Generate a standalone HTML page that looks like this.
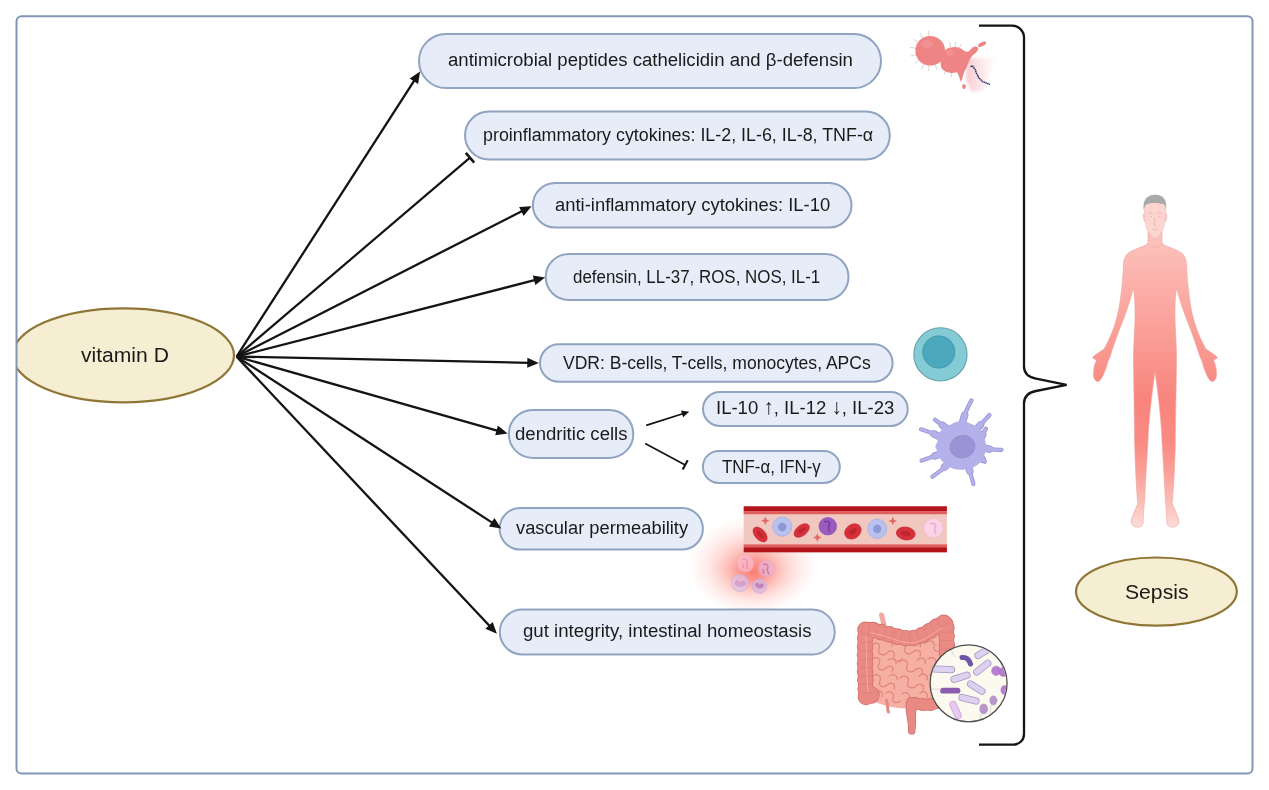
<!DOCTYPE html>
<html><head><meta charset="utf-8">
<style>
*{margin:0;padding:0;box-sizing:border-box}
html,body{width:1269px;height:790px;background:#fff;overflow:hidden}
body{position:relative;font-family:"Liberation Sans",sans-serif;color:#1a1a1a}
svg.m{position:absolute;left:0;top:0}
.t{position:absolute;white-space:nowrap;z-index:4;transform-origin:0 0}
.ar{font-size:1.12em;line-height:0}
</style></head>
<body>
<svg class="m" width="1269" height="790" viewBox="0 0 1269 790" style="z-index:1">
<defs><clipPath id="fc"><rect x="17" y="17" width="1234" height="755" rx="4"/></clipPath></defs>
<g clip-path="url(#fc)"><ellipse cx="123.3" cy="355.3" rx="110.7" ry="47" fill="#f6eed3" stroke="#8f7636" stroke-width="2.2"/></g>
<ellipse cx="1156.4" cy="591.6" rx="80.4" ry="34.1" fill="#f6eed3" stroke="#8f7636" stroke-width="2.2"/>
<!-- bracket -->
<path d="M979,25.6 H1012 A12,12 0 0 1 1024,37.6 V366.5 C1024,373.5 1028,377 1036,378.6 L1066.6,384.8 L1036,391 C1028,392.6 1024,396 1024,403.4 V734 A10.5,10.5 0 0 1 1013.5,744.6 H979" fill="none" stroke="#151515" stroke-width="2.3"/>
<!-- bacterium -->
<defs>
<linearGradient id="pg" x1="968" y1="0" x2="1002" y2="0" gradientUnits="userSpaceOnUse"><stop offset="0" stop-color="#f9c9cf" stop-opacity="0.9"/><stop offset="1" stop-color="#fde6ea" stop-opacity="0"/></linearGradient>
<filter id="bl1" x="-50%" y="-50%" width="200%" height="200%"><feGaussianBlur stdDeviation="1.5"/></filter>
</defs>
<path d="M967,58 L1000,58 L992,66 L984,90 L972,92 L966,80 Z" fill="url(#pg)" filter="url(#bl1)"/>
<g stroke="#cbbcc0" stroke-width="0.9" opacity="0.75"><line x1="929.0" y1="36.6" x2="928.4" y2="30.6"/><line x1="923.1" y1="38.4" x2="920.1" y2="33.2"/><line x1="918.5" y1="42.6" x2="913.6" y2="39.2"/><line x1="916.1" y1="48.3" x2="910.2" y2="47.3"/><line x1="916.4" y1="54.5" x2="910.6" y2="56.1"/><line x1="919.2" y1="60.0" x2="914.6" y2="63.8"/><line x1="924.2" y1="63.8" x2="921.6" y2="69.2"/><line x1="929.0" y1="65.0" x2="928.4" y2="71.0"/><line x1="935.1" y1="64.2" x2="937.1" y2="69.9"/><line x1="940.3" y1="60.9" x2="944.6" y2="65.2"/><line x1="943.6" y1="55.7" x2="949.3" y2="57.7"/><line x1="959.0" y1="48.7" x2="961.7" y2="43.9"/><line x1="954.9" y1="47.2" x2="955.8" y2="41.8"/><line x1="950.5" y1="47.2" x2="949.6" y2="41.8"/><line x1="946.5" y1="70.3" x2="943.7" y2="75.1"/><line x1="951.6" y1="72.0" x2="951.1" y2="77.4"/><line x1="957.0" y1="71.2" x2="958.9" y2="76.4"/><line x1="960.7" y1="69.1" x2="964.3" y2="73.3"/></g>
<circle cx="930.2" cy="50.8" r="14.8" fill="#ef8484"/>
<path d="M940,56 C944,47 957,44 963,50 C967,53 969,52 972,48 C974,46 977,46 978,48 C979,50 976,53 973,55 C970,58 969,61 968,64 C967,67 966,69 964,72 C963,76 962,80 961,82 C959,78 959,74 957,72 C952,74 944,73 941,67 Z" fill="#ef8484"/>
<ellipse cx="982" cy="44.2" rx="4.5" ry="2" transform="rotate(-25 982 44.2)" fill="#ef8484"/>
<ellipse cx="964" cy="86.5" rx="1.8" ry="2.6" fill="#ef8484"/>
<ellipse cx="927" cy="44" rx="6" ry="4" fill="#f49a9a" opacity="0.6"/>
<ellipse cx="950" cy="53" rx="4" ry="3" fill="#f49a9a" opacity="0.6"/>
<path d="M970.5,66.5 L972.5,66 L974,68 L975.5,70 L976,72.5 L977.5,75 L978.5,77.5 L980.5,79.5 L982.5,81.5 L985,82.5 L987.5,83.5 L990,84.5" fill="none" stroke="#2e3566" stroke-width="1.5" stroke-dasharray="1.5 0.5" stroke-linejoin="round"/>
<!-- lymphocyte -->
<circle cx="940.45" cy="354.4" r="26.6" fill="#84cbd6" stroke="#67a0aa" stroke-width="1.1"/>
<circle cx="938.8" cy="352" r="16.2" fill="#4ba8bd" stroke="#3f98ab" stroke-width="0.8"/>
<!-- dendritic cell -->
<g fill="none" stroke-linecap="round">
<g stroke="#9b97d6" stroke-width="4.2"><path d="M962,424 C965,413 968,406 971.5,400.5"/><path d="M976,430 C981,424 986,419 989.5,415"/><path d="M981,438 C983,434 984.5,431 986,428.8"/><path d="M984,448 C990,449.5 996,450 1001.5,449.8"/><path d="M981,458 C982.5,459.5 983.5,460.5 984.8,461.8"/><path d="M968,465 C970,472 972,478 973.4,484"/><path d="M950,462 C944,468 938,473 932.4,476.8"/><path d="M941,454 C934,456 928,458.5 921.6,460.6"/><path d="M940,437 C933,433 927,431 921,429.3"/><path d="M946,428 C942,425 938,422 934.9,419.7"/></g>
<g stroke="#9b97d6" stroke-width="7.5"><line x1="962" y1="424" x2="964.7" y2="415.1"/><line x1="976" y1="430" x2="980.5" y2="424.9"/><line x1="981" y1="438" x2="982.7" y2="434.7"/><line x1="984" y1="448" x2="989.4" y2="449.1"/><line x1="981" y1="458" x2="982.2" y2="459.2"/><line x1="968" y1="465" x2="969.8" y2="471.1"/><line x1="950" y1="462" x2="944.6" y2="467.1"/><line x1="941" y1="454" x2="934.9" y2="455.9"/><line x1="940" y1="437" x2="933.9" y2="433.9"/><line x1="946" y1="428" x2="942.4" y2="425.3"/></g>
<g stroke="#b4b1ea" stroke-width="2.6"><path d="M962,424 C965,413 968,406 971.5,400.5"/><path d="M976,430 C981,424 986,419 989.5,415"/><path d="M981,438 C983,434 984.5,431 986,428.8"/><path d="M984,448 C990,449.5 996,450 1001.5,449.8"/><path d="M981,458 C982.5,459.5 983.5,460.5 984.8,461.8"/><path d="M968,465 C970,472 972,478 973.4,484"/><path d="M950,462 C944,468 938,473 932.4,476.8"/><path d="M941,454 C934,456 928,458.5 921.6,460.6"/><path d="M940,437 C933,433 927,431 921,429.3"/><path d="M946,428 C942,425 938,422 934.9,419.7"/></g>
<g stroke="#b4b1ea" stroke-width="5.8"><line x1="962" y1="424" x2="964.7" y2="415.1"/><line x1="976" y1="430" x2="980.5" y2="424.9"/><line x1="981" y1="438" x2="982.7" y2="434.7"/><line x1="984" y1="448" x2="989.4" y2="449.1"/><line x1="981" y1="458" x2="982.2" y2="459.2"/><line x1="968" y1="465" x2="969.8" y2="471.1"/><line x1="950" y1="462" x2="944.6" y2="467.1"/><line x1="941" y1="454" x2="934.9" y2="455.9"/><line x1="940" y1="437" x2="933.9" y2="433.9"/><line x1="946" y1="428" x2="942.4" y2="425.3"/></g>
</g>
<path d="M937.5,442 C937,432 944,426 951,424.5 C956,421 963,419.5 969,423 C976,425 982,430 984,438 C987,444 987,451 983.5,457 C981,463 975,468.5 967,469 C960,471 951,469.5 946,464.5 C941,461 937,455 936.5,449 C934.5,447 935.5,444.5 937.5,442 Z" fill="#b4b1ea"/>
<ellipse cx="962.5" cy="446.7" rx="12.6" ry="11.3" transform="rotate(-15 962.5 446.7)" fill="#9b93d6" stroke="#8e86cb" stroke-width="0.6"/>
<!-- inflammation glow -->
<defs><radialGradient id="gl" cx="753" cy="565" r="66" fx="753" fy="574" gradientUnits="userSpaceOnUse" gradientTransform="translate(753 565) scale(1 0.76) translate(-753 -565)">
<stop offset="0" stop-color="#fb6e62" stop-opacity="0.9"/><stop offset="0.22" stop-color="#fc8278" stop-opacity="0.8"/><stop offset="0.45" stop-color="#fdaaa2" stop-opacity="0.62"/><stop offset="0.7" stop-color="#fed3ce" stop-opacity="0.45"/><stop offset="0.9" stop-color="#ffeceb" stop-opacity="0.3"/><stop offset="1" stop-color="#ffffff" stop-opacity="0"/></radialGradient></defs>
<rect x="684" y="510" width="140" height="104" fill="url(#gl)"/>
<g opacity="0.7">
<circle cx="745.5" cy="563.5" r="8.4" fill="#f8bfd3" stroke="#f3a9c4" stroke-width="0.8"/><path d="M742.5,559.5 C745.5,558 748.5,560 747,563 C745.5,566 749,567.5 747,569 M742.5,564 C744,565 744,567 742.5,568" fill="none" stroke="#ee90b3" stroke-width="1.3"/>
<circle cx="766.5" cy="568.5" r="8" fill="#e9b7d9" stroke="#dea4cd" stroke-width="0.8"/><path d="M763,565 C766,563 769,565.5 767.5,568.5 C766,571.5 769.5,572.5 768.5,574.5 M762.5,569.5 C764,570.5 764,572.5 762.5,573.5" fill="none" stroke="#c66fae" stroke-width="1.7"/>
<circle cx="740" cy="583" r="8.7" fill="#dcc0e8" stroke="#ceaadf" stroke-width="0.8"/><path d="M734.5,582.5 C736.5,578.5 740,580.5 740,583 C741,580 745,579.5 746,583.5 C746,588 734.5,588 734.5,582.5 Z" fill="#c39bd8"/>
<circle cx="759.5" cy="586" r="7.3" fill="#d7b6e4" stroke="#c79fda" stroke-width="0.8"/><path d="M755.2,584.5 C757,581.5 759.5,583 759.5,585.5 C760.5,582.5 763.8,582.5 763.8,585.5 C763.8,589.5 755.2,589.5 755.2,584.5 Z" fill="#a86ec6"/>
</g>
<!-- blood vessel -->
<rect x="743.7" y="506.3" width="203.2" height="46" fill="#f1c8bf"/>
<rect x="743.7" y="506.3" width="203.2" height="5" fill="#b3141c"/>
<rect x="743.7" y="511.2" width="203.2" height="3" fill="#de5e5c"/>
<rect x="743.7" y="544.4" width="203.2" height="3" fill="#de5e5c"/>
<rect x="743.7" y="547.3" width="203.2" height="5" fill="#b3141c"/>
<g>
<ellipse cx="760.1" cy="534.5" rx="8.8" ry="5.2" transform="rotate(48 760.1 534.5)" fill="#d8303a" stroke="#c02630" stroke-width="0.6"/><ellipse cx="760.1" cy="534.5" rx="4.5" ry="2" transform="rotate(48 760.1 534.5)" fill="#bf2630"/>
<ellipse cx="801.7" cy="530.5" rx="8.8" ry="5.2" transform="rotate(-38 801.7 530.5)" fill="#d8303a" stroke="#c02630" stroke-width="0.6"/><ellipse cx="801.7" cy="530.5" rx="4.5" ry="2" transform="rotate(-38 801.7 530.5)" fill="#bf2630"/>
<ellipse cx="852.9" cy="531.4" rx="8.8" ry="7" transform="rotate(-35 852.9 531.4)" fill="#d8303a" stroke="#c02630" stroke-width="0.6"/><ellipse cx="852.9" cy="531.4" rx="4.5" ry="2.5" transform="rotate(-35 852.9 531.4)" fill="#bf2630"/>
<ellipse cx="905.8" cy="533.5" rx="9.5" ry="6.5" transform="rotate(8 905.8 533.5)" fill="#d8303a" stroke="#c02630" stroke-width="0.6"/><ellipse cx="905.8" cy="533.5" rx="5" ry="2.5" transform="rotate(8 905.8 533.5)" fill="#bf2630"/>
<circle cx="782.2" cy="526.6" r="9.6" fill="#b9c1ee" stroke="#a6aee2" stroke-width="0.8"/><circle cx="782.2" cy="527" r="4.2" fill="#8f98d6"/>
<circle cx="877.2" cy="528.8" r="9.6" fill="#b9c1ee" stroke="#a6aee2" stroke-width="0.8"/><circle cx="877.2" cy="529" r="4.2" fill="#8f98d6"/>
<circle cx="827.8" cy="526.2" r="8.8" fill="#9a5cc0" stroke="#8a4cb0" stroke-width="0.6"/><path d="M824,522 C828,520 831,523 829,526 C827,529 831,531 829,532" fill="none" stroke="#7a3aa0" stroke-width="1.6"/>
<circle cx="933.5" cy="528" r="9.6" fill="#fad3e4" stroke="#f3bfd6" stroke-width="0.8"/><path d="M930,524 C934,522 937,525 935,528 C933,531 937,533 935,534" fill="none" stroke="#eeadc9" stroke-width="1.6"/>
<path d="M765.3,516.5 L766.5,519.5 L769.5,520.7 L766.5,521.9 L765.3,525 L764.1,521.9 L761,520.7 L764.1,519.5 Z" fill="#e26662"/>
<path d="M817.3,533.3 L818.5,536.3 L821.5,537.5 L818.5,538.7 L817.3,541.8 L816.1,538.7 L813,537.5 L816.1,536.3 Z" fill="#e26662"/>
<path d="M892.8,516.8 L894,519.8 L897,521 L894,522.2 L892.8,525.3 L891.6,522.2 L888.5,521 L891.6,519.8 Z" fill="#e26662"/>
</g>
<!-- intestine -->
<path d="M868,628 C885,634 925,640 946,622 L948,692 C940,702 925,708 915,708 C900,710 880,706 871,699 Z" fill="#f6b0a3"/>
<g fill="none" stroke="#e2867b" stroke-width="1.2" stroke-linecap="round" stroke-linejoin="round">
<path d="M872,645 C876,641 881,644 879,649 C877,654 883,657 887,653 C890,649 895,651 894,656 C893,661 898,663 902,659"/>
<path d="M884,641 C889,638 894,641 892,646 M897,644 C901,640 907,643 905,648 C903,653 909,656 913,652 C917,648 922,651 920,656"/>
<path d="M912,642 C917,639 922,642 920,647 M925,643 C929,639 935,641 934,646 C933,651 938,653 941,650"/>
<path d="M872,659 C877,656 882,659 879,664 C876,669 882,672 886,668 C890,664 895,667 892,672"/>
<path d="M888,660 C892,657 897,659 896,664 M899,662 C903,658 909,661 907,666 C905,671 911,674 915,670 C919,666 924,669 922,674"/>
<path d="M917,660 C921,656 927,659 925,664 M928,659 C932,656 938,659 936,664 C934,669 939,671 942,668"/>
<path d="M873,676 C877,673 882,676 880,681 C878,686 883,689 887,685 C891,681 896,684 894,689"/>
<path d="M889,676 C893,673 898,675 897,680 M900,678 C904,674 910,677 908,682 C906,687 912,690 916,686 C920,682 925,685 923,690"/>
<path d="M919,676 C923,672 929,675 927,680 M930,675 C934,672 940,675 938,680 C936,685 940,688 943,685"/>
<path d="M875,692 C879,689 884,692 882,697 M886,693 C890,690 895,693 893,698 C891,702 897,704 900,701"/>
<path d="M902,694 C906,691 911,694 909,699 C907,703 913,705 917,702 M920,693 C924,690 929,693 927,698 C925,702 931,704 934,701"/>
</g>
<path d="M881.5,615 L883.8,624" stroke="#f2a89e" stroke-width="5" stroke-linecap="round"/>
<path d="M886.5,700 C888,705 887,709 888.5,712" stroke="#e48a84" stroke-width="3" fill="none" stroke-linecap="round"/>
<g fill="#d6736d"><circle cx="871" cy="695" r="8.7"/></g>
<g fill="#d6736d"><circle cx="866.0" cy="697.0" r="8.3"/><circle cx="865.8" cy="692.8" r="7.5"/><circle cx="865.7" cy="688.6" r="8.3"/><circle cx="865.5" cy="684.4" r="7.5"/><circle cx="865.4" cy="680.2" r="8.3"/><circle cx="865.2" cy="676.0" r="7.5"/><circle cx="865.1" cy="671.8" r="8.3"/><circle cx="865.1" cy="667.6" r="7.5"/><circle cx="865.0" cy="663.4" r="8.3"/><circle cx="865.0" cy="659.2" r="7.5"/><circle cx="865.0" cy="655.0" r="8.3"/><circle cx="865.0" cy="650.8" r="7.5"/><circle cx="865.0" cy="646.6" r="8.3"/><circle cx="865.1" cy="642.4" r="7.5"/><circle cx="865.2" cy="638.2" r="8.3"/><circle cx="865.3" cy="634.0" r="7.5"/><circle cx="865.5" cy="629.8" r="8.3"/><circle cx="868.9" cy="629.4" r="7.5"/><circle cx="873.0" cy="630.1" r="8.3"/><circle cx="877.1" cy="631.0" r="7.5"/><circle cx="881.1" cy="632.1" r="8.3"/><circle cx="885.2" cy="633.3" r="7.5"/><circle cx="889.2" cy="634.4" r="8.3"/><circle cx="893.3" cy="635.6" r="7.5"/><circle cx="897.3" cy="636.6" r="8.3"/><circle cx="901.4" cy="637.6" r="7.5"/><circle cx="905.6" cy="638.2" r="8.3"/><circle cx="909.7" cy="638.5" r="7.5"/><circle cx="913.9" cy="638.0" r="8.3"/><circle cx="918.0" cy="636.9" r="7.5"/><circle cx="921.8" cy="635.3" r="8.3"/><circle cx="925.6" cy="633.4" r="7.5"/><circle cx="929.2" cy="631.3" r="8.3"/><circle cx="932.8" cy="629.1" r="7.5"/><circle cx="936.3" cy="626.8" r="8.3"/><circle cx="939.9" cy="624.7" r="7.5"/><circle cx="943.7" cy="622.8" r="8.3"/><circle cx="946.0" cy="623.8" r="7.5"/><circle cx="946.3" cy="627.9" r="8.3"/><circle cx="946.5" cy="632.1" r="7.5"/><circle cx="946.6" cy="636.3" r="8.3"/><circle cx="946.7" cy="640.5" r="7.5"/><circle cx="946.8" cy="644.7" r="8.3"/><circle cx="946.8" cy="648.9" r="7.5"/><circle cx="946.8" cy="653.1" r="8.3"/><circle cx="946.8" cy="657.3" r="7.5"/><circle cx="946.7" cy="661.5" r="8.3"/><circle cx="946.6" cy="665.7" r="7.5"/><circle cx="946.5" cy="669.9" r="8.3"/><circle cx="946.3" cy="674.1" r="7.5"/><circle cx="946.1" cy="678.3" r="8.3"/><circle cx="945.8" cy="682.5" r="7.5"/><circle cx="945.5" cy="686.7" r="8.3"/><circle cx="945.1" cy="690.9" r="7.5"/><circle cx="944.7" cy="695.1" r="8.3"/></g>
<g fill="#d6736d"><circle cx="944.5" cy="697.0" r="6.5"/><circle cx="941.8" cy="699.9" r="5.9"/><circle cx="938.5" cy="702.2" r="6.5"/><circle cx="934.8" cy="703.7" r="5.9"/><circle cx="930.9" cy="704.5" r="6.5"/><circle cx="926.9" cy="704.8" r="5.9"/><circle cx="922.9" cy="704.6" r="6.5"/><circle cx="918.9" cy="704.1" r="5.9"/><circle cx="915.0" cy="703.3" r="6.5"/></g>
<g fill="#d6736d"><circle cx="911.5" cy="703.0" r="5.9"/><circle cx="911.1" cy="706.5" r="5.6"/><circle cx="911.1" cy="710.0" r="5.4"/><circle cx="911.2" cy="713.5" r="5.1"/><circle cx="911.4" cy="717.0" r="4.8"/><circle cx="911.7" cy="720.5" r="4.5"/><circle cx="911.9" cy="724.0" r="4.3"/><circle cx="911.9" cy="727.5" r="4.0"/><circle cx="911.7" cy="730.9" r="3.7"/></g>
<g fill="#e98982"><circle cx="871" cy="695" r="7.8"/></g>
<g fill="#e98a84"><circle cx="866.0" cy="697.0" r="7.4"/><circle cx="865.8" cy="692.8" r="6.6"/><circle cx="865.7" cy="688.6" r="7.4"/><circle cx="865.5" cy="684.4" r="6.6"/><circle cx="865.4" cy="680.2" r="7.4"/><circle cx="865.2" cy="676.0" r="6.6"/><circle cx="865.1" cy="671.8" r="7.4"/><circle cx="865.1" cy="667.6" r="6.6"/><circle cx="865.0" cy="663.4" r="7.4"/><circle cx="865.0" cy="659.2" r="6.6"/><circle cx="865.0" cy="655.0" r="7.4"/><circle cx="865.0" cy="650.8" r="6.6"/><circle cx="865.0" cy="646.6" r="7.4"/><circle cx="865.1" cy="642.4" r="6.6"/><circle cx="865.2" cy="638.2" r="7.4"/><circle cx="865.3" cy="634.0" r="6.6"/><circle cx="865.5" cy="629.8" r="7.4"/><circle cx="868.9" cy="629.4" r="6.6"/><circle cx="873.0" cy="630.1" r="7.4"/><circle cx="877.1" cy="631.0" r="6.6"/><circle cx="881.1" cy="632.1" r="7.4"/><circle cx="885.2" cy="633.3" r="6.6"/><circle cx="889.2" cy="634.4" r="7.4"/><circle cx="893.3" cy="635.6" r="6.6"/><circle cx="897.3" cy="636.6" r="7.4"/><circle cx="901.4" cy="637.6" r="6.6"/><circle cx="905.6" cy="638.2" r="7.4"/><circle cx="909.7" cy="638.5" r="6.6"/><circle cx="913.9" cy="638.0" r="7.4"/><circle cx="918.0" cy="636.9" r="6.6"/><circle cx="921.8" cy="635.3" r="7.4"/><circle cx="925.6" cy="633.4" r="6.6"/><circle cx="929.2" cy="631.3" r="7.4"/><circle cx="932.8" cy="629.1" r="6.6"/><circle cx="936.3" cy="626.8" r="7.4"/><circle cx="939.9" cy="624.7" r="6.6"/><circle cx="943.7" cy="622.8" r="7.4"/><circle cx="946.0" cy="623.8" r="6.6"/><circle cx="946.3" cy="627.9" r="7.4"/><circle cx="946.5" cy="632.1" r="6.6"/><circle cx="946.6" cy="636.3" r="7.4"/><circle cx="946.7" cy="640.5" r="6.6"/><circle cx="946.8" cy="644.7" r="7.4"/><circle cx="946.8" cy="648.9" r="6.6"/><circle cx="946.8" cy="653.1" r="7.4"/><circle cx="946.8" cy="657.3" r="6.6"/><circle cx="946.7" cy="661.5" r="7.4"/><circle cx="946.6" cy="665.7" r="6.6"/><circle cx="946.5" cy="669.9" r="7.4"/><circle cx="946.3" cy="674.1" r="6.6"/><circle cx="946.1" cy="678.3" r="7.4"/><circle cx="945.8" cy="682.5" r="6.6"/><circle cx="945.5" cy="686.7" r="7.4"/><circle cx="945.1" cy="690.9" r="6.6"/><circle cx="944.7" cy="695.1" r="7.4"/></g>
<g fill="#e98a84"><circle cx="944.5" cy="697.0" r="5.6"/><circle cx="941.8" cy="699.9" r="5.0"/><circle cx="938.5" cy="702.2" r="5.6"/><circle cx="934.8" cy="703.7" r="5.0"/><circle cx="930.9" cy="704.5" r="5.6"/><circle cx="926.9" cy="704.8" r="5.0"/><circle cx="922.9" cy="704.6" r="5.6"/><circle cx="918.9" cy="704.1" r="5.0"/><circle cx="915.0" cy="703.3" r="5.6"/></g>
<g fill="#e98a84"><circle cx="911.5" cy="703.0" r="5.0"/><circle cx="911.1" cy="706.5" r="4.7"/><circle cx="911.1" cy="710.0" r="4.5"/><circle cx="911.2" cy="713.5" r="4.2"/><circle cx="911.4" cy="717.0" r="3.9"/><circle cx="911.7" cy="720.5" r="3.6"/><circle cx="911.9" cy="724.0" r="3.4"/><circle cx="911.9" cy="727.5" r="3.1"/><circle cx="911.7" cy="730.9" r="2.8"/></g>
<path d="M871.8,692.6 L859.8,693.1 M871.5,684.2 L859.5,684.6 M871.2,675.9 L859.2,676.2 M871.1,667.5 L859.1,667.7 M871.0,659.2 L859.0,659.3 M871.0,650.8 L859.0,650.8 M871.1,642.5 L859.1,642.3 M871.3,634.2 L859.3,633.8 M868.6,635.4 L869.1,623.4 M875.6,636.8 L878.5,625.2 M883.5,639.0 L886.8,627.5 M891.7,641.4 L894.8,629.8 M900.3,643.5 L902.6,631.7 M909.9,644.5 L909.6,632.5 M919.9,642.6 L916.0,631.2 M928.5,638.7 L922.7,628.1 M936.0,634.1 L929.6,624.0 M942.8,630.0 L937.1,619.4 M940.7,626.5 L951.4,621.0 M940.5,632.4 L952.5,631.9 M940.7,640.7 L952.7,640.4 M940.8,649.0 L952.8,648.9 M940.8,657.3 L952.8,657.4 M940.6,665.6 L952.6,665.9 M940.3,673.8 L952.3,674.4 M939.8,682.1 L951.8,682.9 M939.1,690.3 L951.1,691.4 " stroke="#dc7a74" stroke-width="0.9" fill="none" opacity="0.7"/>
<path d="M866,636 C866.5,660 867,680 868,692 M870,633 C885,634 898,643 911,643 C925,642 936,630 943,628" fill="none" stroke="#f6b2ab" stroke-width="0.9" opacity="0.9"/>
<!-- bacteria circle -->
<circle cx="968.6" cy="683.3" r="38.5" fill="#fcfaee" stroke="#4d4d4d" stroke-width="1.3"/>
<defs><clipPath id="bc"><circle cx="968.6" cy="683.3" r="37.8"/></clipPath></defs>
<g clip-path="url(#bc)" stroke-linecap="round" fill="none">
<g stroke="#a495c6" stroke-width="7.2">
<line x1="978" y1="655.4" x2="988" y2="649.5"/><line x1="976.8" y1="672" x2="987.8" y2="663.2"/><line x1="934.5" y1="669" x2="951.5" y2="669.6"/>
<line x1="954" y1="679.3" x2="967" y2="675.3"/><line x1="970.5" y1="684" x2="982" y2="691.2"/><line x1="962" y1="697.5" x2="976" y2="701"/>
</g>
<g stroke="#ddd1f0" stroke-width="5.6">
<line x1="978" y1="655.4" x2="988" y2="649.5"/><line x1="976.8" y1="672" x2="987.8" y2="663.2"/><line x1="934.5" y1="669" x2="951.5" y2="669.6"/>
<line x1="954" y1="679.3" x2="967" y2="675.3"/><line x1="970.5" y1="684" x2="982" y2="691.2"/><line x1="962" y1="697.5" x2="976" y2="701"/>
</g>
<line x1="953" y1="704.5" x2="958" y2="715.5" stroke="#c6a3d6" stroke-width="7.4"/><line x1="953" y1="704.5" x2="958" y2="715.5" stroke="#e8c9ef" stroke-width="5.8"/>
<path d="M962,657.5 C966,657 969,659 970.5,664" stroke="#6d56a6" stroke-width="5"/>
<line x1="943" y1="690.7" x2="957.5" y2="690.7" stroke="#8a5bae" stroke-width="5.8"/>
<path d="M955,657 C952,655 953,651 950,649 M942,690 C939,688 936,690 932,689" stroke="#b8b8b8" stroke-width="0.5"/>
<circle cx="996.2" cy="670.8" r="4.6" fill="#b77fd0" stroke="#a56bc2" stroke-width="0.5"/><circle cx="1003.6" cy="671.9" r="4.6" fill="#b77fd0" stroke="#a56bc2" stroke-width="0.5"/>
<ellipse cx="1004.7" cy="690.1" rx="4.2" ry="4.8" fill="#b77fd0"/>
<ellipse cx="993.4" cy="700.4" rx="3.6" ry="4.6" fill="#b898cc" stroke="#a384bd" stroke-width="0.4"/>
<ellipse cx="983.7" cy="708.9" rx="4" ry="5" fill="#b898cc" stroke="#a384bd" stroke-width="0.4"/>
<path d="M991,705 C990,710 991,714 989,718 M981,714 C980,718 981,722 979,725" stroke="#b8b8b8" stroke-width="0.5"/>
</g>
<defs><linearGradient id="hg" x1="0" y1="240" x2="0" y2="530" gradientUnits="userSpaceOnUse">
<stop offset="0" stop-color="#fbc2bc"/><stop offset="0.2" stop-color="#fbaba4"/><stop offset="0.42" stop-color="#f9948c"/>
<stop offset="0.55" stop-color="#f8847d"/><stop offset="0.7" stop-color="#f98b83"/><stop offset="0.8" stop-color="#faa098"/><stop offset="0.9" stop-color="#fbbdb6"/><stop offset="1" stop-color="#fde0dc"/></linearGradient></defs>
<path d="M1148.0,232.0 L1148.0,243.0 C1146.0,246.5 1136.0,248.0 1130.0,252.0 C1126.0,254.0 1124.0,258.0 1123.5,264.0 C1123.0,280.0 1121.0,295.0 1119.5,305.0 C1117.0,320.0 1112.0,335.0 1104.0,349.0 C1100.0,352.0 1094.5,355.0 1092.5,357.5 C1094.0,359.5 1095.5,359.5 1096.5,360.0 C1094.5,364.0 1093.0,370.0 1093.6,376.0 C1094.0,380.0 1096.5,382.0 1098.5,381.5 C1101.5,380.0 1104.5,373.0 1107.0,365.0 C1108.0,361.0 1109.0,359.0 1110.0,357.0 C1113.0,347.0 1119.0,330.0 1124.0,318.0 C1128.0,307.0 1131.0,298.0 1133.4,288.0 C1135.0,298.0 1135.3,310.0 1134.8,325.0 C1134.0,340.0 1133.0,355.0 1133.6,370.0 C1134.0,400.0 1134.6,430.0 1134.6,441.0 C1135.0,460.0 1136.0,485.0 1137.8,503.7 C1135.0,510.0 1132.0,516.0 1131.0,521.5 C1131.0,525.0 1134.0,526.5 1136.0,527.0 C1139.0,527.5 1142.0,527.0 1143.0,523.5 C1143.5,518.0 1143.4,510.0 1144.6,501.6 C1145.5,480.0 1147.0,460.0 1148.2,437.0 C1149.0,420.0 1151.0,400.0 1155.0,372.0 C1159.0,400.0 1161.0,420.0 1161.8,437.0 C1163.0,460.0 1164.5,480.0 1165.4,501.6 C1166.6,510.0 1166.5,518.0 1167.0,523.5 C1168.0,527.0 1171.0,527.5 1174.0,527.0 C1176.0,526.5 1179.0,525.0 1179.0,521.5 C1178.0,516.0 1175.0,510.0 1172.2,503.7 C1174.0,485.0 1175.0,460.0 1175.4,441.0 C1175.4,430.0 1176.0,400.0 1176.4,370.0 C1177.0,355.0 1176.0,340.0 1175.2,325.0 C1174.7,310.0 1175.0,298.0 1176.6,288.0 C1179.0,298.0 1182.0,307.0 1186.0,318.0 C1191.0,330.0 1197.0,347.0 1200.0,357.0 C1201.0,359.0 1202.0,361.0 1203.0,365.0 C1205.5,373.0 1208.5,380.0 1211.5,381.5 C1213.5,382.0 1216.0,380.0 1216.4,376.0 C1217.0,370.0 1215.5,364.0 1213.5,360.0 C1214.5,359.5 1216.0,359.5 1217.5,357.5 C1215.5,355.0 1210.0,352.0 1206.0,349.0 C1198.0,335.0 1193.0,320.0 1190.5,305.0 C1189.0,295.0 1187.0,280.0 1186.5,264.0 C1186.0,258.0 1184.0,254.0 1180.0,252.0 C1174.0,248.0 1164.0,246.5 1162.0,243.0 L1162.0,232.0 Z" fill="url(#hg)" stroke="#eea59f" stroke-width="0.6"/>
<path d="M1144.8,213 C1142.5,212.5 1142.5,220 1145,221.5 Z M1165.2,213 C1167.5,212.5 1167.5,220 1165,221.5 Z" fill="#fbd2ce" stroke="#eeb2ad" stroke-width="0.5"/>
<path d="M1144.3,206 C1144,200 1148,196.5 1155,196.5 C1162,196.5 1166,200 1165.7,206 C1165.8,219 1164.5,227 1161.8,232 C1160,235.5 1157.5,238.2 1155,238.2 C1152.5,238.2 1150,235.5 1148.2,232 C1145.5,227 1144.2,219 1144.3,206 Z" fill="#fcd4d0" stroke="#efb3ae" stroke-width="0.5"/>
<path d="M1143.6,210 C1142.8,201 1146,195 1155,194.8 C1163.5,194.8 1167,200 1166.2,209 C1165.6,206 1164.5,204.5 1163,204 C1158,202.5 1151,202.5 1147,204 C1145.5,205 1144.5,207 1143.6,210 Z" fill="#a9a9a9"/>
<path d="M1148.5,213.5 C1150,212.8 1151.5,212.8 1152.8,213.5 M1157.2,213.5 C1158.5,212.8 1160,212.8 1161.5,213.5 M1149.5,216.5 L1152,216.5 M1158,216.5 L1160.5,216.5 M1155,218 L1154.3,225 L1156,225.5 M1152.5,229.5 C1154,230.3 1156,230.3 1157.5,229.5" fill="none" stroke="#ecaaa5" stroke-width="0.7"/>
<path d="M1147.5,243 C1150,246 1153,247.5 1155,247.5 C1157,247.5 1160,246 1162.5,243" fill="none" stroke="#f0aaa4" stroke-width="0.5"/>

</svg>
<svg class="m" width="1269" height="790" viewBox="0 0 1269 790" style="z-index:3">
<rect x="16.5" y="16.2" width="1236" height="757.2" rx="5" fill="none" stroke="#8195b7" stroke-width="2"/>
<g fill="#e6edf9" stroke="#90a3c0" stroke-width="2">
<rect x="419" y="34" width="462.0" height="54.0" rx="27.0"/>
<rect x="465" y="111.5" width="424.8" height="48.0" rx="24.0"/>
<rect x="532.9" y="183" width="318.6" height="44.6" rx="22.3"/>
<rect x="545.7" y="254" width="302.8" height="46.0" rx="23.0"/>
<rect x="540" y="344.3" width="352.6" height="37.4" rx="18.7"/>
<rect x="508.8" y="409.9" width="124.5" height="48.0" rx="24.0"/>
<rect x="703" y="392.1" width="204.7" height="33.9" rx="16.9"/>
<rect x="702.9" y="451" width="136.9" height="31.9" rx="15.9"/>
<rect x="499.6" y="507.9" width="203.3" height="41.7" rx="20.9"/>
<rect x="499.8" y="609.6" width="334.9" height="44.8" rx="22.4"/>
</g>
</svg>
<svg class="m" width="1269" height="790" viewBox="0 0 1269 790" style="z-index:5">
<line x1="236.6" y1="356.6" x2="414.7" y2="79.9" stroke="#141414" stroke-width="2.3"/><polygon points="420.1,71.5 418.1,83.9 409.7,78.5" fill="#141414"/><line x1="236.6" y1="356.6" x2="470.0" y2="157.7" stroke="#141414" stroke-width="2.2"/><line x1="474.2" y1="162.6" x2="465.8" y2="152.8" stroke="#141414" stroke-width="2.6"/><line x1="236.6" y1="356.6" x2="522.7" y2="210.7" stroke="#141414" stroke-width="2.3"/><polygon points="531.6,206.2 523.6,215.9 519.1,207.0" fill="#141414"/><line x1="236.6" y1="356.6" x2="535.5" y2="279.9" stroke="#141414" stroke-width="2.3"/><polygon points="545.2,277.4 535.3,285.1 532.8,275.4" fill="#141414"/><line x1="236.6" y1="356.6" x2="528.8" y2="362.8" stroke="#141414" stroke-width="2.3"/><polygon points="538.8,363.0 527.2,367.8 527.4,357.8" fill="#141414"/><line x1="236.6" y1="356.6" x2="498.0" y2="430.9" stroke="#141414" stroke-width="2.3"/><polygon points="507.6,433.6 495.2,435.3 497.9,425.6" fill="#141414"/><line x1="236.6" y1="356.6" x2="492.9" y2="523.1" stroke="#141414" stroke-width="2.3"/><polygon points="501.3,528.5 488.9,526.4 494.4,518.0" fill="#141414"/><line x1="236.6" y1="356.6" x2="490.1" y2="626.5" stroke="#141414" stroke-width="2.3"/><polygon points="496.9,633.8 485.4,628.8 492.7,622.0" fill="#141414"/><line x1="646.2" y1="425.4" x2="683.5" y2="413.5" stroke="#141414" stroke-width="1.7"/><polygon points="689.2,411.7 683.1,417.3 681.0,410.6" fill="#141414"/><line x1="645.2" y1="443.6" x2="685.2" y2="464.9" stroke="#141414" stroke-width="1.7"/><line x1="682.7" y1="469.5" x2="687.7" y2="460.3" stroke="#141414" stroke-width="2.1"/>
</svg>
<div class="t" style="left:448.43px;top:49.42px;font-size:19.2px;line-height:22.06px;transform:scaleX(0.9675)">antimicrobial peptides cathelicidin and β-defensin</div>
<div class="t" style="left:483.07px;top:123.92px;font-size:19.2px;line-height:22.06px;transform:scaleX(0.9309)">proinflammatory cytokines: IL-2, IL-6, IL-8, TNF-α</div>
<div class="t" style="left:555.14px;top:193.82px;font-size:19.2px;line-height:22.06px;transform:scaleX(0.9593)">anti-inflammatory cytokines: IL-10</div>
<div class="t" style="left:572.80px;top:265.79px;font-size:18.9px;line-height:21.72px;transform:scaleX(0.8953)">defensin, LL-37, ROS, NOS, IL-1</div>
<div class="t" style="left:563.00px;top:351.50px;font-size:19px;line-height:21.83px;transform:scaleX(0.9234)">VDR: B-cells, T-cells, monocytes, APCs</div>
<div class="t" style="left:514.93px;top:422.52px;font-size:19.2px;line-height:22.06px;transform:scaleX(0.9678)">dendritic cells</div>
<div class="t" style="left:715.57px;top:397.42px;font-size:19.2px;line-height:22.06px;transform:scaleX(0.9654)">IL-10 <span class="ar">↑</span>, IL-12 <span class="ar">↓</span>, IL-23</div>
<div class="t" style="left:722.30px;top:455.90px;font-size:19px;line-height:21.83px;transform:scaleX(0.8883)">TNF-α, IFN-γ</div>
<div class="t" style="left:515.70px;top:516.87px;font-size:19.2px;line-height:22.06px;transform:scaleX(0.9550)">vascular permeability</div>
<div class="t" style="left:523.03px;top:620.42px;font-size:19.2px;line-height:22.06px;transform:scaleX(0.9706)">gut integrity, intestinal homeostasis</div>
<div class="t" style="left:80.50px;top:344.48px;font-size:20.0px;line-height:22.98px;transform:scaleX(1.0542)">vitamin D</div>
<div class="t" style="left:1124.85px;top:580.60px;font-size:20.2px;line-height:23.21px;transform:scaleX(1.0475)">Sepsis</div>

</body></html>
